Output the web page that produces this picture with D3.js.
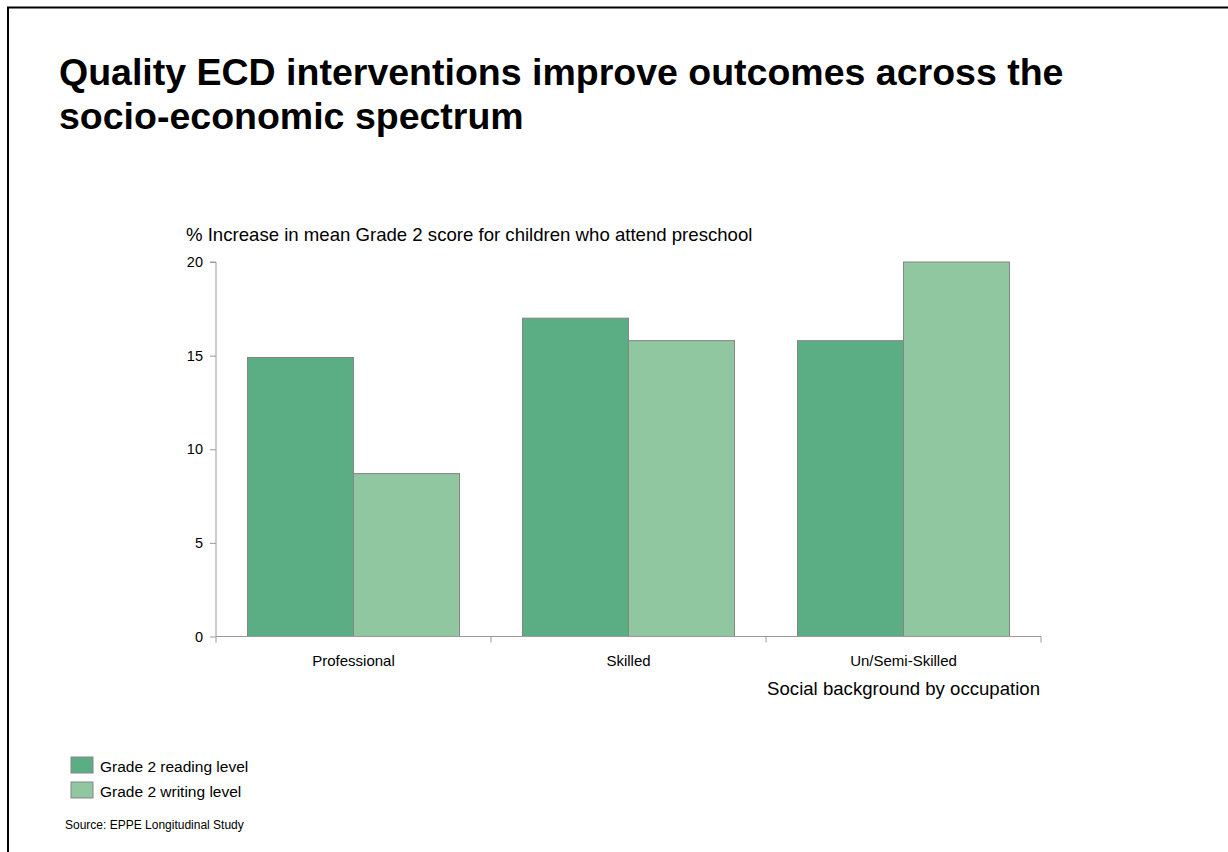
<!DOCTYPE html>
<html>
<head>
<meta charset="utf-8">
<script src="https://cdn.jsdelivr.net/npm/d3@7"></script>
<style>
  html, body { margin: 0; padding: 0; background: #fff; }
  svg { display: block; font-family: "Liberation Sans", Arial, sans-serif; }
</style>
</head>
<body>
<svg id="chart" width="1228" height="852"></svg>
<script>
// Occupation groups and the two measured outcomes
const categories = ["Professional", "Skilled", "Un/Semi-Skilled"];
const seriesNames = ["Grade 2 reading level", "Grade 2 writing level"];
const readingValues = [14.9, 17.0, 15.8];
const writingValues = [8.7, 15.8, 20.0];
const yTicks = [0, 5, 10, 15, 20];
const colors = ["#5bae84", "#90c6a0"];

const seriesValues = [readingValues, writingValues];
const rows = categories.map((c, i) => ({
  category: c,
  values: seriesValues.map((vals, s) => ({ series: s, value: vals[i] }))
}));

const svg = d3.select("#chart");

// Slide frame
svg.append("rect")
  .attr("x", 8).attr("y", 7.5)
  .attr("width", 1240).attr("height", 870)
  .attr("fill", "none").attr("stroke", "#000").attr("stroke-width", 2);

// Title
const title = svg.append("text")
  .attr("x", 59).attr("y", 85)
  .attr("font-size", 37.5).attr("font-weight", "bold").attr("fill", "#000");
title.append("tspan").attr("x", 59).attr("dy", 0)
  .text("Quality ECD interventions improve outcomes across the");
title.append("tspan").attr("x", 59).attr("dy", 44)
  .text("socio-economic spectrum");

// Plot area
const plot = { left: 216, right: 1041, top: 262, bottom: 636.5 };

const x0 = d3.scaleBand()
  .domain(categories)
  .range([plot.left, plot.right])
  .paddingInner(0).paddingOuter(0);

const x1 = d3.scaleBand()
  .domain(d3.range(seriesNames.length))
  .range([0, x0.bandwidth()])
  .paddingInner(0)
  .paddingOuter(0.297);

const y = d3.scaleLinear()
  .domain([0, 20])
  .range([plot.bottom, plot.top]);

// Bars
const groups = svg.append("g").selectAll("g")
  .data(rows).join("g")
  .attr("transform", d => `translate(${x0(d.category)},0)`);

groups.selectAll("rect")
  .data(d => d.values).join("rect")
  .attr("x", d => x1(d.series))
  .attr("y", d => y(d.value))
  .attr("width", x1.bandwidth())
  .attr("height", d => y(0) - y(d.value))
  .attr("fill", d => colors[d.series])
  .attr("stroke", "#858585")
  .attr("stroke-width", 1);

// Y axis
const yAxis = svg.append("g")
  .attr("transform", `translate(${plot.left},0)`)
  .call(d3.axisLeft(y).tickValues(yTicks).tickSize(6).tickPadding(7));
yAxis.select(".domain").attr("stroke", "#9a9a9a").attr("d", `M-6,${plot.top}H0V${plot.bottom}`);
yAxis.selectAll(".tick line").attr("stroke", "#9a9a9a");
yAxis.selectAll(".tick text")
  .attr("font-size", 14.5).attr("fill", "#000")
  .attr("font-family", "Liberation Sans, Arial, sans-serif");

// X axis: boundary ticks between groups
const boundaries = [plot.left].concat(categories.map(c => x0(c) + x0.bandwidth()));
const xAxisG = svg.append("g");
xAxisG.append("line")
  .attr("x1", plot.left).attr("x2", plot.right)
  .attr("y1", plot.bottom).attr("y2", plot.bottom)
  .attr("stroke", "#9a9a9a");
xAxisG.selectAll("line.tk")
  .data(boundaries).join("line")
  .attr("class", "tk")
  .attr("x1", d => d).attr("x2", d => d)
  .attr("y1", plot.bottom).attr("y2", plot.bottom + 6)
  .attr("stroke", "#9a9a9a");
xAxisG.selectAll("text")
  .data(categories).join("text")
  .attr("x", d => x0(d) + x0.bandwidth() / 2)
  .attr("y", 666)
  .attr("text-anchor", "middle")
  .attr("font-size", 15)
  .text(d => d);

// Axis titles
svg.append("text")
  .attr("x", 186).attr("y", 241)
  .attr("font-size", 18.6)
  .text("% Increase in mean Grade 2 score for children who attend preschool");
svg.append("text")
  .attr("x", 1040).attr("y", 695)
  .attr("text-anchor", "end")
  .attr("font-size", 18.6)
  .text("Social background by occupation");

// Legend
const legend = svg.append("g").selectAll("g")
  .data(seriesNames).join("g")
  .attr("transform", (d, i) => `translate(71,${757 + i * 25})`);
legend.append("rect")
  .attr("width", 22).attr("height", 16)
  .attr("fill", (d, i) => colors[i])
  .attr("stroke", "#858585");
legend.append("text")
  .attr("x", 29).attr("y", 14.5)
  .attr("font-size", 15.5)
  .text(d => d);

// Source note
svg.append("text")
  .attr("x", 65).attr("y", 829)
  .attr("font-size", 12)
  .text("Source: EPPE Longitudinal Study");
</script>
</body>
</html>
